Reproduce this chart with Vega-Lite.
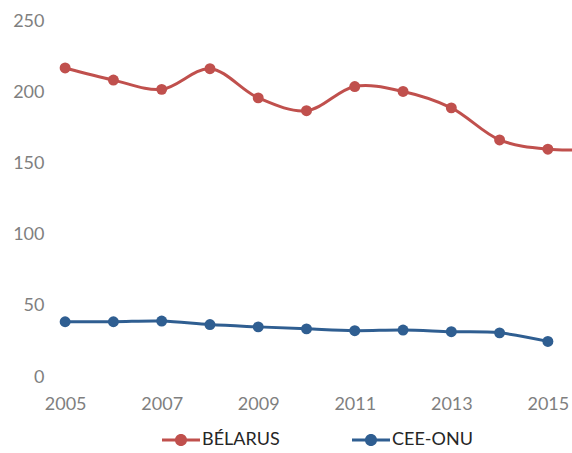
{
  "$schema": "https://vega.github.io/schema/vega-lite/v6.json",
  "autosize": "none",
  "width": 531,
  "height": 356,
  "padding": {"left": 41, "top": 21, "right": 0, "bottom": 76},
  "background": "white",
  "config": {"view": {"stroke": null}, "font": "Lato"},
  "data": {"values": [
    {"year": 2005, "series": "BÉLARUS", "value": 217},
    {"year": 2006, "series": "BÉLARUS", "value": 208.5},
    {"year": 2007, "series": "BÉLARUS", "value": 202},
    {"year": 2008, "series": "BÉLARUS", "value": 216.5},
    {"year": 2009, "series": "BÉLARUS", "value": 196},
    {"year": 2010, "series": "BÉLARUS", "value": 187},
    {"year": 2011, "series": "BÉLARUS", "value": 204},
    {"year": 2012, "series": "BÉLARUS", "value": 200.5},
    {"year": 2013, "series": "BÉLARUS", "value": 189},
    {"year": 2014, "series": "BÉLARUS", "value": 166.5},
    {"year": 2015, "series": "BÉLARUS", "value": 160},
    {"year": 2016, "series": "BÉLARUS", "value": 160},
    {"year": 2005, "series": "CEE-ONU", "value": 38.8},
    {"year": 2006, "series": "CEE-ONU", "value": 38.8},
    {"year": 2007, "series": "CEE-ONU", "value": 39.3},
    {"year": 2008, "series": "CEE-ONU", "value": 36.8},
    {"year": 2009, "series": "CEE-ONU", "value": 35.2},
    {"year": 2010, "series": "CEE-ONU", "value": 33.8},
    {"year": 2011, "series": "CEE-ONU", "value": 32.5},
    {"year": 2012, "series": "CEE-ONU", "value": 33},
    {"year": 2013, "series": "CEE-ONU", "value": 31.8},
    {"year": 2014, "series": "CEE-ONU", "value": 31},
    {"year": 2015, "series": "CEE-ONU", "value": 25}
  ]},
  "encoding": {
    "x": {"field": "year", "type": "quantitative",
      "scale": {"domain": [2004.5, 2015.5], "nice": false, "zero": false},
      "axis": {"title": null, "values": [2005, 2007, 2009, 2011, 2013, 2015], "format": "d",
        "grid": false, "domain": false, "ticks": false, "labelPadding": 18,
        "labelFontSize": 18, "labelColor": "#7f7f7f", "labelFont": "Lato", "labelFlush": false}},
    "y": {"field": "value", "type": "quantitative",
      "scale": {"domain": [0, 250], "nice": false},
      "axis": {"title": null, "values": [0, 50, 100, 150, 200, 250],
        "grid": false, "domain": false, "ticks": false, "labelPadding": -3,
        "labelFontSize": 18, "labelColor": "#7f7f7f", "labelFont": "Lato"}},
    "color": {"field": "series", "type": "nominal",
      "scale": {"domain": ["BÉLARUS", "CEE-ONU"], "range": ["#c0504d", "#2f5e91"]},
      "legend": {"title": null, "orient": "none", "direction": "horizontal",
        "legendX": 121, "legendY": 400,
        "symbolType": "M-1,-0.08H1V0.08H-1Z M0.32,0 A0.32,0.32 0 1,1 -0.32,0 A0.32,0.32 0 1,1 0.32,0Z",
        "symbolSize": 1444, "symbolStrokeWidth": 0, "symbolOpacity": 1,
        "labelFontSize": 18, "labelColor": "#262626", "labelFont": "Lato",
        "labelOffset": 2, "columnPadding": 72}}
  },
  "layer": [
    {"mark": {"type": "line", "interpolate": "catmull-rom", "strokeWidth": 3, "clip": true}},
    {"mark": {"type": "point", "filled": true, "size": 120, "opacity": 1, "clip": true}}
  ]
}
